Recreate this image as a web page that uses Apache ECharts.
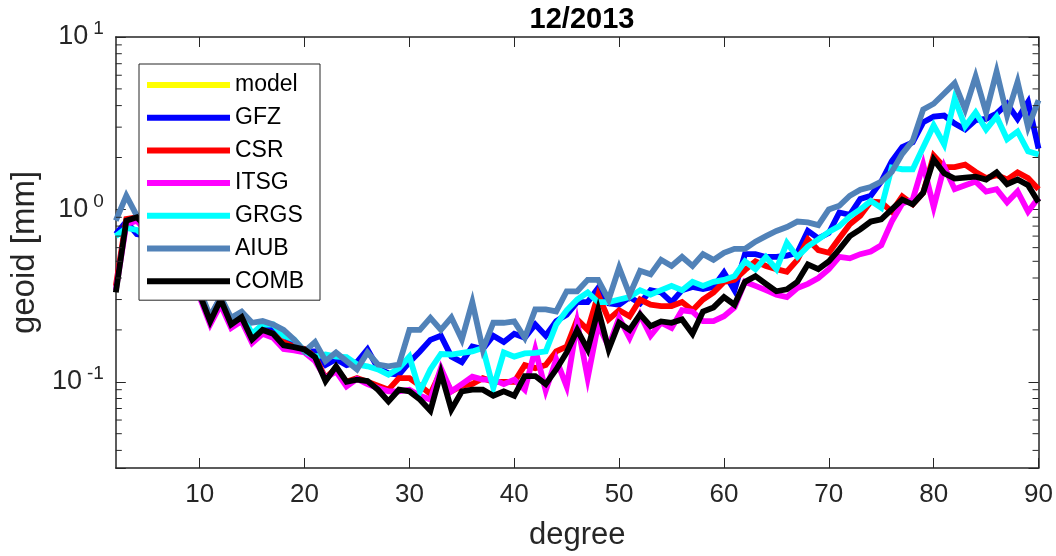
<!DOCTYPE html>
<html><head><meta charset="utf-8">
<script src="https://cdn.jsdelivr.net/npm/echarts@6/dist/echarts.min.js"></script>
<style>html,body{margin:0;padding:0;background:#fff}#c{width:1056px;height:556px}</style>
</head><body><div id="c"></div>
<script>
const degrees = [2,3,4,5,6,7,8,9,10,11,12,13,14,15,16,17,18,19,20,21,22,23,24,25,26,27,28,29,30,31,32,33,34,35,36,37,38,39,40,41,42,43,44,45,46,47,48,49,50,51,52,53,54,55,56,57,58,59,60,61,62,63,64,65,66,67,68,69,70,71,72,73,74,75,76,77,78,79,80,81,82,83,84,85,86,87,88,89,90];

const model = [];
const GFZ = [0.72,0.85,0.72,0.70,0.62,0.52,0.45,0.38,0.33,0.235,
 0.31,0.225,0.25,0.185,0.21,0.20,0.185,0.17,0.15,0.15,
 0.125,0.135,0.125,0.13,0.154,0.12,0.112,0.11,0.13,0.15,
 0.175,0.185,0.14,0.13,0.16,0.155,0.185,0.17,0.19,0.18,
 0.215,0.185,0.225,0.245,0.29,0.29,0.35,0.285,0.28,0.31,
 0.285,0.34,0.33,0.29,0.34,0.355,0.345,0.355,0.43,0.34,
 0.55,0.55,0.53,0.53,0.54,0.56,0.75,0.68,0.73,0.96,
 0.93,1.15,1.2,1.45,1.9,2.3,2.45,3.2,3.45,3.5,
 3.15,2.91,3.3,3.35,3.6,4.1,3.35,4.2,2.25];
const CSR = [0.36,0.88,0.90,0.77,0.65,0.54,0.45,0.38,0.32,0.23,
 0.29,0.22,0.235,0.18,0.20,0.19,0.17,0.16,0.155,0.14,
 0.105,0.12,0.10,0.105,0.10,0.095,0.09,0.105,0.105,0.095,
 0.085,0.115,0.088,0.095,0.097,0.105,0.10,0.10,0.10,0.125,
 0.12,0.125,0.15,0.16,0.23,0.20,0.32,0.23,0.26,0.24,
 0.30,0.28,0.275,0.275,0.29,0.26,0.30,0.33,0.38,0.39,
 0.445,0.50,0.47,0.45,0.435,0.51,0.67,0.58,0.56,0.68,
 0.82,0.92,1.11,1.10,0.97,1.19,1.07,1.25,2.05,1.76,
 1.76,1.82,1.65,1.52,1.58,1.49,1.64,1.52,1.31];
const ITSG = [0.34,0.82,0.86,0.74,0.63,0.52,0.44,0.37,0.31,0.215,
 0.28,0.205,0.225,0.168,0.19,0.18,0.155,0.152,0.148,0.132,
 0.105,0.115,0.094,0.104,0.097,0.092,0.088,0.088,0.090,0.083,
 0.079,0.120,0.088,0.097,0.107,0.103,0.103,0.097,0.103,0.090,
 0.154,0.089,0.135,0.094,0.22,0.105,0.215,0.16,0.235,0.18,
 0.245,0.185,0.22,0.205,0.26,0.255,0.225,0.225,0.24,0.27,
 0.38,0.36,0.34,0.32,0.31,0.35,0.37,0.40,0.45,0.53,
 0.52,0.55,0.57,0.62,0.85,1.08,1.14,1.82,1.03,1.77,
 1.31,1.38,1.45,1.27,1.31,1.10,1.27,0.97,1.17];
const GRGS = [0.70,0.78,0.76,0.68,0.60,0.51,0.44,0.37,0.32,0.23,
 0.30,0.22,0.245,0.19,0.215,0.215,0.185,0.176,0.15,0.14,
 0.144,0.14,0.139,0.126,0.123,0.118,0.11,0.12,0.14,0.088,
 0.118,0.145,0.144,0.147,0.15,0.157,0.092,0.148,0.14,0.146,
 0.147,0.15,0.215,0.26,0.30,0.33,0.29,0.29,0.30,0.31,
 0.34,0.32,0.34,0.36,0.34,0.38,0.36,0.38,0.39,0.41,
 0.50,0.45,0.53,0.45,0.64,0.53,0.61,0.67,0.74,0.80,
 0.91,1.0,1.12,1.02,1.75,1.71,1.71,2.29,3.07,2.38,
 4.4,3.03,3.65,2.91,3.46,2.55,2.83,2.17,2.08];
const AIUB = [0.86,1.2,0.92,0.8,0.68,0.57,0.48,0.40,0.34,0.24,
 0.31,0.235,0.255,0.22,0.225,0.215,0.20,0.176,0.15,0.17,
 0.132,0.148,0.132,0.118,0.148,0.126,0.123,0.126,0.20,0.20,
 0.235,0.20,0.236,0.176,0.29,0.154,0.22,0.22,0.224,0.18,
 0.263,0.263,0.256,0.335,0.335,0.39,0.39,0.30,0.46,0.32,
 0.44,0.42,0.51,0.47,0.53,0.47,0.55,0.51,0.56,0.59,
 0.59,0.65,0.70,0.75,0.79,0.85,0.84,0.81,1.0,1.05,
 1.2,1.3,1.35,1.45,1.65,2.1,2.5,3.8,4.1,4.7,
 5.4,3.8,5.9,3.65,6.3,3.5,5.5,3.0,4.3];
const COMB = [0.33,0.86,0.90,0.78,0.66,0.55,0.46,0.39,0.32,0.224,
 0.30,0.215,0.237,0.176,0.20,0.19,0.163,0.159,0.154,0.139,
 0.101,0.123,0.100,0.103,0.101,0.090,0.077,0.090,0.088,0.079,
 0.068,0.113,0.069,0.088,0.090,0.090,0.083,0.088,0.083,0.108,
 0.108,0.097,0.118,0.148,0.200,0.154,0.263,0.154,0.220,0.200,
 0.246,0.210,0.224,0.220,0.230,0.190,0.256,0.270,0.310,0.280,
 0.380,0.410,0.370,0.335,0.344,0.380,0.480,0.450,0.500,0.586,
 0.700,0.766,0.850,0.875,1.00,1.14,1.07,1.25,1.95,1.62,
 1.51,1.53,1.55,1.49,1.64,1.40,1.49,1.38,1.10];

const xTickValues = [10,20,30,40,50,60,70,80,90];
const yMinorTicks = [0.04,0.05,0.06,0.07,0.08,0.09,0.2,0.3,0.4,0.5,0.6,0.7,0.8,0.9,2,3,4,5,6,7,8,9];

const FONT = '"Liberation Sans", Arial, Helvetica, sans-serif';
const AX = '#262626';
const X_MIN = 2, X_MAX = 90, Y_MIN = 0.031622777, Y_MAX = 10;

const defs = [
  {name:'model', color:'#ffff00', data:model},
  {name:'GFZ', color:'#0000ff', data:GFZ},
  {name:'CSR', color:'#ff0000', data:CSR},
  {name:'ITSG', color:'#ff00ff', data:ITSG},
  {name:'GRGS', color:'#00ffff', data:GRGS},
  {name:'AIUB', color:'#5182b8', data:AIUB},
  {name:'COMB', color:'#000000', data:COMB}
];

const lineSeries = defs.map((d, k) => ({
  name: d.name, type:'line', data: d.data.map((v, i) => [degrees[i], v]),
  showSymbol:false, symbol:'none', color:d.color, z: 2 + k * 0.01,
  lineStyle:{color:d.color, width:5.8, join:'miter'},
  emphasis:{disabled:true}, silent:true
}));

const minorTickSeries = {
  type:'custom', xAxisIndex:0, yAxisIndex:0, silent:true, clip:false, z:5,
  data: yMinorTicks.map(v => [X_MIN, v]),
  renderItem: function (params, api) {
    const v = api.value(1);
    const pL = api.coord([X_MIN, v]);
    const pR = api.coord([X_MAX, v]);
    return {type:'group', children:[
      {type:'line', shape:{x1:pL[0], y1:pL[1], x2:pL[0] + 6, y2:pL[1]}, style:{stroke:AX, lineWidth:1}},
      {type:'line', shape:{x1:pR[0] - 6, y1:pR[1], x2:pR[0], y2:pR[1]}, style:{stroke:AX, lineWidth:1}}
    ]};
  }
};

function yLabel(v) {
  const lg = Math.log10(v);
  const e = Math.round(lg);
  if (Math.abs(lg - e) > 1e-6) return '';
  return '10{s|' + e + '}';
}

const axisLineStyle = {color:AX, width:1.5};
const chart = echarts.init(document.getElementById('c'), null, {renderer:'canvas'});
chart.setOption({
  animation:false,
  backgroundColor:'#ffffff',
  title:{text:'12/2013', left:577, top:0, textAlign:'center',
    textStyle:{fontFamily:FONT, fontSize:29, fontWeight:'bold', color:'#000'}},
  grid:{left:112, right:15, top:37, bottom:86, containLabel:false},
  legend:{orient:'vertical', left:139, top:64, padding:[8,16,6,8],
    itemWidth:83, itemHeight:6, itemGap:6.7, icon:'rect',
    backgroundColor:'#ffffff', borderColor:AX, borderWidth:1, borderRadius:0,
    textStyle:{fontFamily:FONT, fontSize:23, color:'#000', lineHeight:26},
    data: defs.map(d => d.name), selectedMode:false, z:10},
  xAxis:[
    {type:'value', min:X_MIN, max:X_MAX, position:'bottom',
     name:'degree', nameLocation:'middle', nameGap:52,
     nameTextStyle:{fontFamily:FONT, fontSize:31, color:AX},
     axisLine:{show:true, onZero:false, lineStyle:axisLineStyle},
     axisTick:{show:true, inside:true, length:10, customValues:xTickValues, lineStyle:{color:AX, width:1}},
     axisLabel:{customValues:xTickValues, margin:14, fontFamily:FONT, fontSize:26, color:AX},
     splitLine:{show:false}},
    {type:'value', min:X_MIN, max:X_MAX, position:'top',
     axisLine:{show:true, onZero:false, lineStyle:axisLineStyle},
     axisTick:{show:true, inside:true, length:10, customValues:xTickValues, lineStyle:{color:AX, width:1}},
     axisLabel:{show:false}, splitLine:{show:false}}
  ],
  yAxis:[
    {type:'log', logBase:10, min:Y_MIN, max:Y_MAX, position:'left',
     name:'geoid [mm]', nameLocation:'middle', nameGap:66, nameRotate:90,
     nameTextStyle:{fontFamily:FONT, fontSize:33, color:AX},
     axisLine:{show:true, onZero:false, lineStyle:axisLineStyle},
     axisTick:{show:true, inside:true, length:10, lineStyle:{color:AX, width:1}},
     axisLabel:{margin:12, formatter:yLabel, fontFamily:FONT, fontSize:27, color:AX,
       rich:{s:{fontFamily:FONT, fontSize:19, color:AX, padding:[0,0,16,5]}}},
     splitLine:{show:false}, minorTick:{show:false}},
    {type:'log', logBase:10, min:Y_MIN, max:Y_MAX, position:'right',
     axisLine:{show:true, onZero:false, lineStyle:axisLineStyle},
     axisTick:{show:true, inside:true, length:10, lineStyle:{color:AX, width:1}},
     axisLabel:{show:false}, splitLine:{show:false}}
  ],
  series: lineSeries.concat([minorTickSeries])
});
</script></body></html>
